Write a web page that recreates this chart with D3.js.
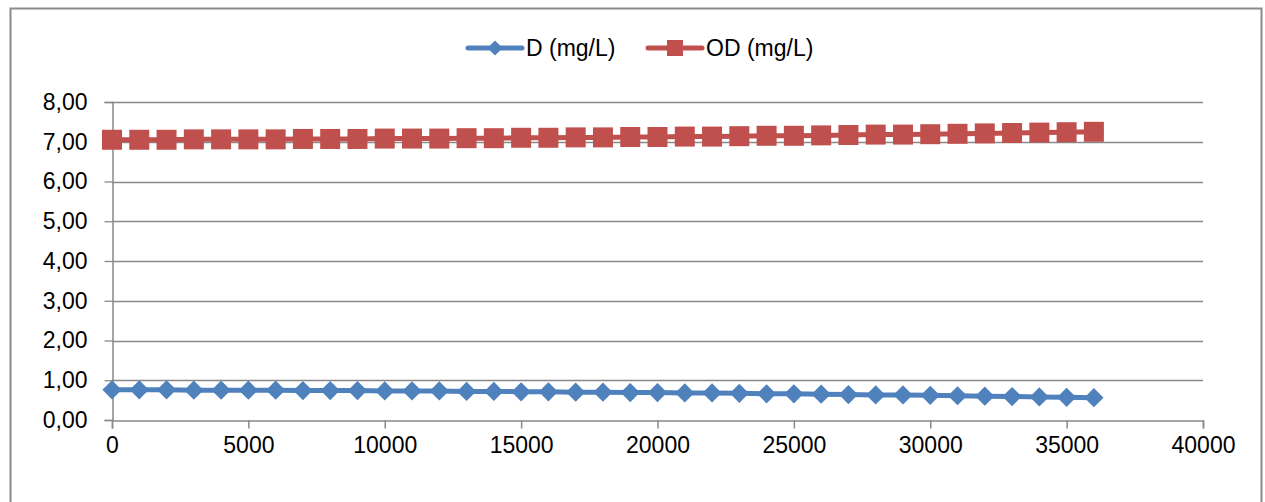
<!DOCTYPE html>
<html>
<head>
<meta charset="utf-8">
<script src="https://cdn.jsdelivr.net/npm/d3@7"></script>
<style>
  html, body { margin: 0; padding: 0; background: #ffffff; }
  svg { display: block; }
  text { font-family: "Liberation Sans", Arial, sans-serif; fill: #000; }
</style>
</head>
<body>
<svg id="chart" width="1265" height="502"></svg>
<script>
// Time / distance steps
const xValues = [0, 1000, 2000, 3000, 4000, 5000, 6000, 7000, 8000, 9000,
  10000, 11000, 12000, 13000, 14000, 15000, 16000, 17000, 18000, 19000,
  20000, 21000, 22000, 23000, 24000, 25000, 26000, 27000, 28000, 29000,
  30000, 31000, 32000, 33000, 34000, 35000, 36000];

// Oxygen deficit D (mg/L)
const dValues = [0.76, 0.76, 0.76, 0.75, 0.75, 0.75, 0.75, 0.74, 0.74, 0.74,
  0.73, 0.73, 0.73, 0.72, 0.72, 0.71, 0.71, 0.70, 0.70, 0.69,
  0.69, 0.68, 0.68, 0.67, 0.66, 0.66, 0.65, 0.64, 0.63, 0.63,
  0.62, 0.61, 0.60, 0.59, 0.58, 0.57, 0.56];

// Dissolved oxygen OD (mg/L)
const odValues = [7.05, 7.05, 7.05, 7.06, 7.06, 7.06, 7.06, 7.07, 7.07, 7.07,
  7.08, 7.08, 7.08, 7.09, 7.09, 7.10, 7.10, 7.11, 7.11, 7.12,
  7.12, 7.13, 7.13, 7.14, 7.15, 7.15, 7.16, 7.17, 7.18, 7.18,
  7.19, 7.20, 7.21, 7.22, 7.23, 7.24, 7.25];

const xTicks = [0, 5000, 10000, 15000, 20000, 25000, 30000, 35000, 40000];
const yTicks = [0, 1, 2, 3, 4, 5, 6, 7, 8];

const seriesNames = ["D (mg/L)", "OD (mg/L)"];
const seriesColors = ["#4F81BD", "#C0504D"];

const svg = d3.select("#chart");
const gridColor = "#898989";
const fontSize = "23px";

// Outer chart frame
svg.append("rect")
  .attr("x", 10.5).attr("y", 8.5)
  .attr("width", 1251).attr("height", 520)
  .attr("fill", "none")
  .attr("stroke", "#8a8a8a")
  .attr("stroke-width", 2);

const plot = { left: 112, right: 1203, top: 102, bottom: 420 };

const x = d3.scaleLinear().domain([0, 40000]).range([plot.left, plot.right]);
const y = d3.scaleLinear().domain([0, 8]).range([plot.bottom, plot.top]);

const fmtY = v => d3.format(".2f")(v).replace(".", ",");

// Horizontal gridlines
svg.append("g")
  .selectAll("line")
  .data(yTicks.filter(v => v > 0))
  .join("line")
  .attr("x1", plot.left).attr("x2", plot.right)
  .attr("y1", d => Math.round(y(d)) + 0.5)
  .attr("y2", d => Math.round(y(d)) + 0.5)
  .attr("stroke", gridColor)
  .attr("stroke-width", 1.3);

// Y axis
const yAxis = svg.append("g")
  .attr("transform", `translate(${plot.left + 0.5},0)`)
  .call(d3.axisLeft(y).tickValues(yTicks).tickSize(8).tickPadding(17).tickFormat(fmtY));
yAxis.select(".domain").attr("stroke", gridColor).attr("stroke-width", 1.5);
yAxis.selectAll(".tick line").attr("stroke", gridColor).attr("stroke-width", 1.3);
yAxis.selectAll("text")
  .style("font-family", '"Liberation Sans", Arial, sans-serif')
  .style("font-size", fontSize)
  .attr("fill", "#000");

// X axis
const xAxis = svg.append("g")
  .attr("transform", `translate(0,${plot.bottom + 0.5})`)
  .call(d3.axisBottom(x).tickValues(xTicks).tickSize(8).tickPadding(8).tickFormat(d3.format("d")));
xAxis.select(".domain").attr("stroke", gridColor).attr("stroke-width", 1.5);
xAxis.selectAll(".tick line").attr("stroke", gridColor).attr("stroke-width", 1.5);
xAxis.selectAll("text")
  .style("font-family", '"Liberation Sans", Arial, sans-serif')
  .style("font-size", fontSize)
  .attr("fill", "#000");

// Series
const series = [
  { name: seriesNames[0], values: dValues, color: seriesColors[0], shape: "diamond" },
  { name: seriesNames[1], values: odValues, color: seriesColors[1], shape: "square" }
];

const line = d3.line()
  .x((d, i) => x(xValues[i]))
  .y(d => y(d));

function markerPath(shape, big) {
  if (shape === "diamond") {
    return d3.symbol().type(d3.symbolSquare).size(big ? 185 : 115)();
  }
  return d3.symbol().type(d3.symbolSquare).size(big ? 400 : 256)();
}

series.forEach(s => {
  const g = svg.append("g");
  g.append("path")
    .datum(s.values)
    .attr("d", line)
    .attr("fill", "none")
    .attr("stroke", s.color)
    .attr("stroke-width", 5);
  g.selectAll("path.marker")
    .data(s.values)
    .join("path")
    .attr("class", "marker")
    .attr("d", markerPath(s.shape, true))
    .attr("transform", (d, i) =>
      `translate(${x(xValues[i])},${y(d)})` + (s.shape === "diamond" ? " rotate(45)" : ""))
    .attr("fill", s.color);
});

// Legend
const legendItems = [
  { x0: 468, text: "D (mg/L)" },
  { x0: 648, text: "OD (mg/L)" }
];
const legendY = 48;
legendItems.forEach((item, i) => {
  const s = series[i];
  const g = svg.append("g");
  g.append("line")
    .attr("x1", item.x0).attr("x2", item.x0 + 54)
    .attr("y1", legendY).attr("y2", legendY)
    .attr("stroke", s.color)
    .attr("stroke-width", 5)
    .attr("stroke-linecap", "round");
  g.append("path")
    .attr("d", markerPath(s.shape, false))
    .attr("transform", `translate(${item.x0 + 27},${legendY})` + (s.shape === "diamond" ? " rotate(45)" : ""))
    .attr("fill", s.color);
  g.append("text")
    .attr("x", item.x0 + 58)
    .attr("y", legendY)
    .attr("dy", "0.35em")
    .style("font-size", fontSize)
    .text(item.text);
});
</script>
</body>
</html>
